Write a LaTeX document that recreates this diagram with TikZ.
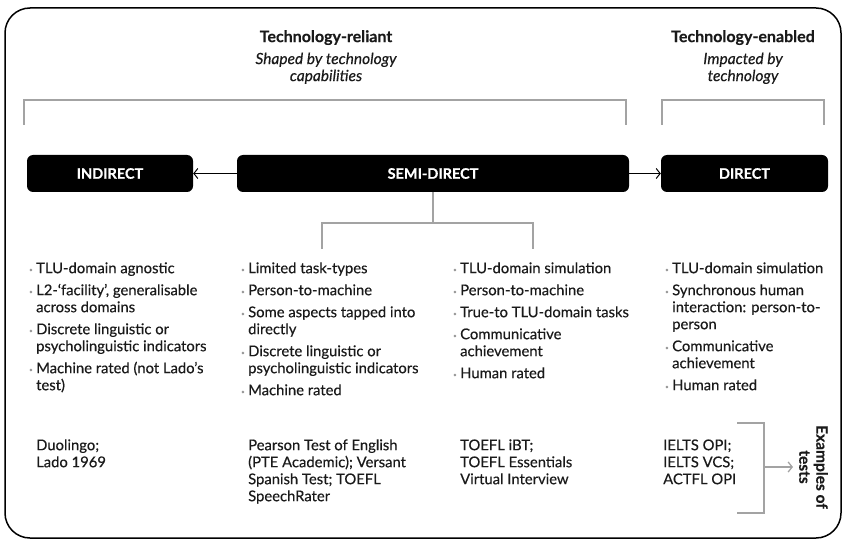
\documentclass[tikz,border=0pt]{standalone}
\usepackage{fontspec}
\setmainfont{Lato}[FakeBold=0.4]
\usetikzlibrary{arrows.meta}
\definecolor{txt}{HTML}{1A1A1A}
\definecolor{brk}{HTML}{A3A3A3}
\definecolor{bul}{HTML}{9A9A9A}
\newcommand{\bitem}[1]{\par\hangindent=7pt\hangafter=1\noindent\strut\makebox[7pt][l]{\textcolor{bul}{\raisebox{1.4pt}{\fontsize{6}{6}\selectfont\textbullet}}}#1}
\newenvironment{bcol}{\begin{minipage}[t]{200pt}\raggedright\setlength{\parskip}{5pt}\fontsize{14.8}{17}\selectfont}{\end{minipage}}
\begin{document}
\begin{tikzpicture}[x=1pt,y=-1pt,
  box/.style={fill=black, rounded corners=6pt, text=white, font=\bfseries\fontsize{14.5}{16}\selectfont, minimum height=37pt, inner sep=0},
  col/.style={anchor=north west, inner sep=0, text=txt},
  ex/.style={anchor=north west, inner sep=0, align=left, text=txt, font=\fontsize{14.8}{17}\selectfont},
  head/.style={anchor=north, inner sep=0, align=center, text=txt, font=\fontsize{15.5}{17}\selectfont},
  gl/.style={draw=brk, line width=1.3pt},
  arr/.style={draw=black, line width=1pt, -{Straight Barb[length=4pt,width=10pt,line width=1pt]}},
  garr/.style={draw=brk, line width=1.3pt, -{Straight Barb[length=4pt,width=10pt,line width=1.3pt]}}
]
\useasboundingbox (0,0) rectangle (843,540);
% outer frame
\draw[line width=1.5pt, rounded corners=25pt] (5,8) rectangle (841,538);

% headers
\node[head] (hrel) at (326,30) {\strut{\fontsize{16}{17}\selectfont\bfseries Technology-reliant}\\[5pt]\itshape Shaped by technology\\\itshape capabilities};
\node[head] (hen) at (743,30) {\strut{\fontsize{16}{17}\selectfont\bfseries Technology-enabled}\\[5pt]\itshape Impacted by\\\itshape technology};

% top brackets
\coordinate (b1a) at (24,125); \coordinate (b1b) at (24,100);
\coordinate (b1c) at (626,100); \coordinate (b1d) at (626,125);
\draw[gl] (b1a) -- (b1b) -- (b1c) -- (b1d);
\coordinate (b2a) at (662,125); \coordinate (b2b) at (662,100);
\coordinate (b2c) at (824,100); \coordinate (b2d) at (824,125);
\draw[gl] (b2a) -- (b2b) -- (b2c) -- (b2d);

% boxes
\node[box, minimum width=166pt] (ind) at (110,173.5) {INDIRECT};
\node[box, minimum width=392pt] (semi) at (433,173.5) {SEMI-DIRECT};
\node[box, minimum width=167pt] (dir) at (744.5,173.5) {DIRECT};
\draw[arr] (semi.west) -- (ind.east);
\draw[arr] (semi.east) -- (dir.west);

% fork under semi-direct
\coordinate (fork) at (433,223);
\coordinate (fl) at (322,223); \coordinate (fle) at (322,249);
\coordinate (fr) at (533,223); \coordinate (fre) at (533,249);
\draw[gl] (semi.south) -- (fork);
\draw[gl] (fle) -- (fl) -- (fr) -- (fre);

% columns
\node[col] (c1) at (29,261.1) {\begin{bcol}%
\bitem{TLU-domain agnostic}
\bitem{L2-‘facility’, generalisable\newline across domains}
\bitem{Discrete linguistic or\newline psycholinguistic indicators}
\bitem{Machine rated (not Lado’s\newline test)}\end{bcol}};
\node[col] (c2) at (241,261.1) {\begin{bcol}%
\bitem{Limited task-types}
\bitem{Person-to-machine}
\bitem{Some aspects tapped into\newline directly}
\bitem{Discrete linguistic or\newline psycholinguistic indicators}
\bitem{Machine rated}\end{bcol}};
\node[col] (c3) at (453,261.1) {\begin{bcol}%
\bitem{TLU-domain simulation}
\bitem{Person-to-machine}
\bitem{True-to TLU-domain tasks}
\bitem{Communicative\newline achievement}
\bitem{Human rated}\end{bcol}};
\node[col] (c4) at (665,261.1) {\begin{bcol}%
\bitem{TLU-domain simulation}
\bitem{Synchronous human\newline interaction: person-to-\newline person}
\bitem{Communicative\newline achievement}
\bitem{Human rated}\end{bcol}};

% examples
\node[ex] (e1) at (36,438.1) {\strut Duolingo;\\Lado 1969};
\node[ex] (e2) at (248,438.1) {\strut Pearson Test of English\\(PTE Academic); Versant\\Spanish Test; TOEFL\\SpeechRater};
\node[ex] (e3) at (460,438.1) {\strut TOEFL iBT;\\TOEFL Essentials\\Virtual Interview};
\node[ex] (e4) at (663,438.1) {\strut IELTS OPI;\\IELTS VCS;\\ACTFL OPI};

% examples bracket
\coordinate (x1) at (737,423); \coordinate (x2) at (764,423);
\coordinate (x3) at (764,513); \coordinate (x4) at (737,513);
\coordinate (xm) at (764,467);
\draw[gl] (x1) -- (x2) -- (x3) -- (x4);
\node[inner sep=0, rotate=-90, align=center, text=txt, font=\bfseries\fontsize{15.5}{17}\selectfont] (exl) at (813.5,467) {Examples of\\tests};
\draw[garr, shorten >=6pt] (xm) -- (xm -| exl.south);
\end{tikzpicture}
\end{document}
